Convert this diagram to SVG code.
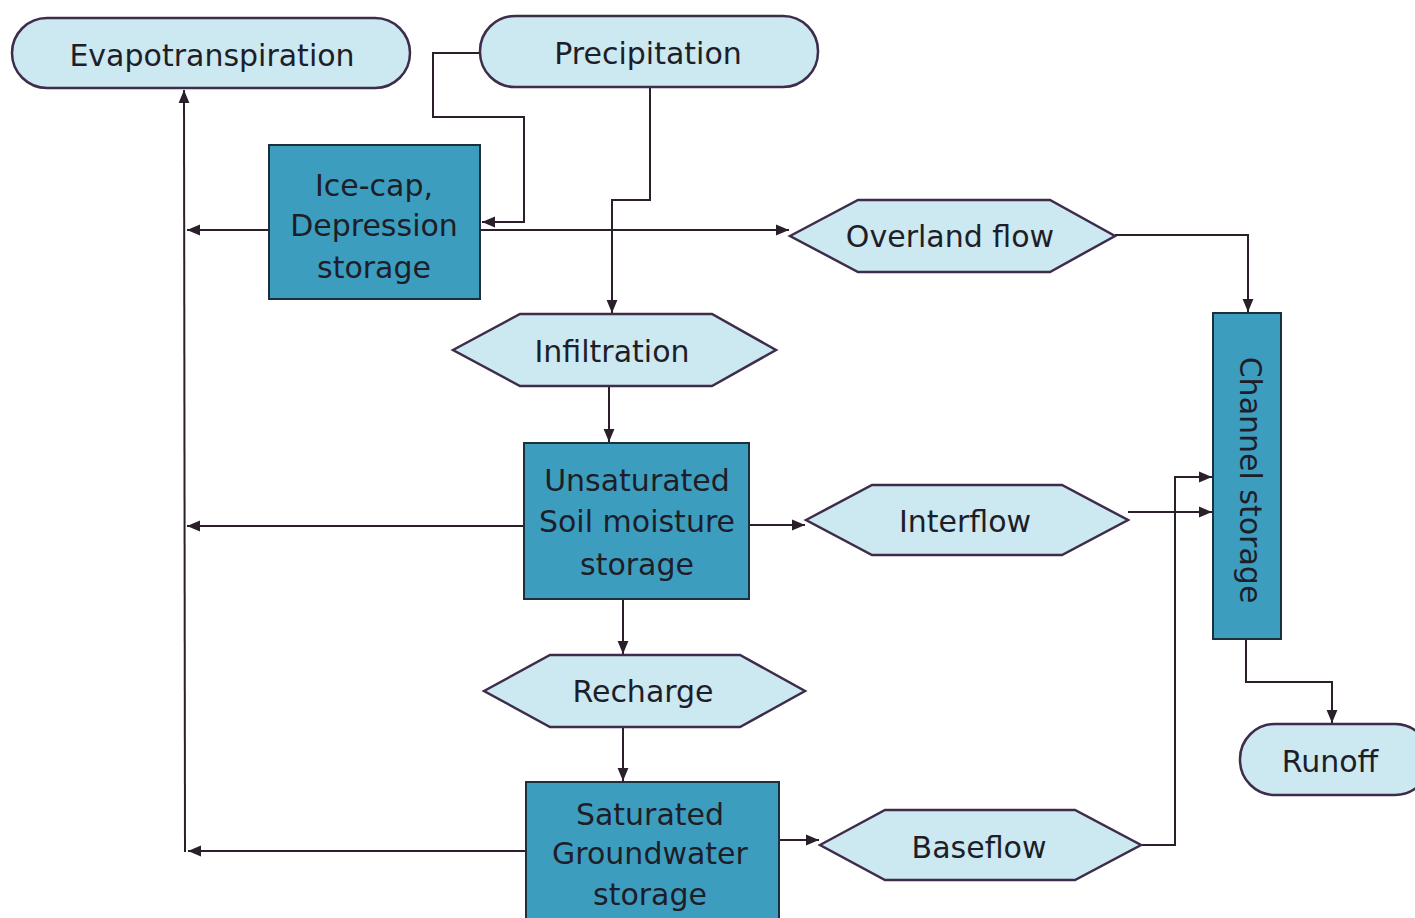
<svg xmlns="http://www.w3.org/2000/svg" width="1415" height="918" viewBox="0 0 1415 918">
<defs>
<marker id="ah" viewBox="0 0 12 12" refX="12" refY="6" markerWidth="13" markerHeight="13" markerUnits="userSpaceOnUse" orient="auto">
<path d="M0,1 L12,6 L0,11 Z" fill="#2a1f2a"/>
</marker>
<style>
.term{fill:#cce8f0;stroke:#3e2c4a;stroke-width:2.5}
.hex{fill:#cce8f0;stroke:#3e2c4a;stroke-width:2.5}
.box{fill:#3d9dbf;stroke:#1c2f3c;stroke-width:2}
.t{font-family:"DejaVu Sans",Verdana,sans-serif;font-size:30px;fill:#1e1e28;text-anchor:middle;dominant-baseline:central}
.c{fill:none;stroke:#2a1f2a;stroke-width:2}
.ca{fill:none;stroke:#2a1f2a;stroke-width:2;marker-end:url(#ah)}
</style>
</defs>
<rect width="1415" height="918" fill="#ffffff"/>

<g id="connectors">
<path class="ca" d="M185,852 L184,90"/>
<path class="ca" d="M269,230 L187,230"/>
<path class="ca" d="M524,526 L187,526"/>
<path class="ca" d="M526,851 L188,851"/>
<path class="ca" d="M480,53 L433,53 L433,117 L524,117 L524,222 L482,222"/>
<path class="ca" d="M650,87 L650,200 L612,200 L612,313"/>
<path class="ca" d="M480,230 L789,230"/>
<path class="ca" d="M1115,235 L1248,235 L1248,312"/>
<path class="ca" d="M609,386 L609,442"/>
<path class="ca" d="M749,525 L805,525"/>
<path class="ca" d="M623,599 L623,654"/>
<path class="ca" d="M623,727 L623,781"/>
<path class="ca" d="M779,840 L819,840"/>
<path class="ca" d="M1128,512 L1212,512"/>
<path class="ca" d="M1141,845 L1175,845 L1175,477 L1212,477"/>
<path class="ca" d="M1246,639 L1246,682 L1332,682 L1332,723"/>
</g>

<g id="evapotranspiration">
<rect class="term" x="12" y="18" width="398" height="70" rx="35" ry="35"/>
<text class="t" x="212" y="55">Evapotranspiration</text>
</g>
<g id="precipitation">
<rect class="term" x="480" y="16" width="338" height="71" rx="35" ry="35"/>
<text class="t" x="648" y="53">Precipitation</text>
</g>
<g id="icecap">
<rect class="box" x="269" y="145" width="211" height="154"/>
<text class="t" x="374" y="185">Ice-cap,</text>
<text class="t" x="374" y="225">Depression</text>
<text class="t" x="374" y="267">storage</text>
</g>
<g id="overland">
<polygon class="hex" points="790,236 858,200 1050,200 1115,236 1050,272 858,272"/>
<text class="t" x="950" y="236">Overland flow</text>
</g>
<g id="infiltration">
<polygon class="hex" points="453,350 520,314 712,314 776,350 712,386 520,386"/>
<text class="t" x="612" y="351">Infiltration</text>
</g>
<g id="unsaturated">
<rect class="box" x="524" y="443" width="225" height="156"/>
<text class="t" x="637" y="480">Unsaturated</text>
<text class="t" x="637" y="521">Soil moisture</text>
<text class="t" x="637" y="564">storage</text>
</g>
<g id="interflow">
<polygon class="hex" points="806,520 872,485 1062,485 1128,520 1062,555 872,555"/>
<text class="t" x="965" y="521">Interflow</text>
</g>
<g id="recharge">
<polygon class="hex" points="484,691 550,655 740,655 805,691 740,727 550,727"/>
<text class="t" x="643" y="691">Recharge</text>
</g>
<g id="saturated">
<rect class="box" x="526" y="782" width="253" height="140"/>
<text class="t" x="650" y="814">Saturated</text>
<text class="t" x="650" y="853">Groundwater</text>
<text class="t" x="650" y="894">storage</text>
</g>
<g id="baseflow">
<polygon class="hex" points="820,845 885,810 1075,810 1141,845 1075,880 885,880"/>
<text class="t" x="979" y="847">Baseflow</text>
</g>
<g id="channel">
<rect class="box" x="1213" y="313" width="68" height="326"/>
<text class="t" transform="translate(1250,480) rotate(90)" x="0" y="0">Channel storage</text>
</g>
<g id="runoff">
<rect class="term" x="1240" y="724" width="190" height="71" rx="35" ry="35"/>
<text class="t" x="1330" y="761">Runoff</text>
</g>
</svg>
